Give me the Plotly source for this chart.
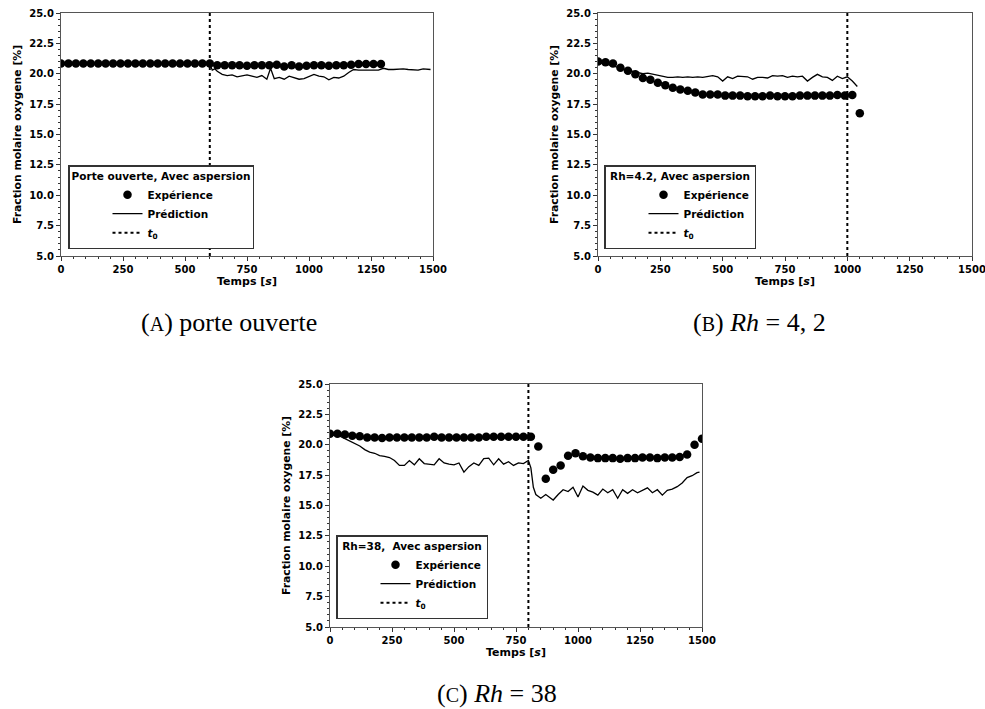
import plotly.graph_objects as go

# ---------------- Data ----------------
# Panel A: porte ouverte
a_exp_t = [0, 30, 60, 90, 120, 150, 180, 210, 240, 270, 300, 330, 360, 390, 420, 450, 480, 510, 540, 570, 600,
           630, 660, 690, 720, 750, 780, 810, 840, 870, 900, 930, 960, 990, 1020, 1050, 1080, 1110, 1140, 1170,
           1200, 1230, 1260, 1290]
a_exp_y = [20.85, 20.85, 20.85, 20.85, 20.85, 20.85, 20.85, 20.85, 20.85, 20.85, 20.85, 20.85, 20.85, 20.85,
           20.85, 20.85, 20.85, 20.85, 20.85, 20.85, 20.85,
           20.7, 20.7, 20.7, 20.7, 20.65, 20.7, 20.7, 20.7, 20.75, 20.6, 20.7, 20.6, 20.65, 20.7, 20.7, 20.65,
           20.7, 20.7, 20.75, 20.8, 20.8, 20.8, 20.8]
a_pred_t = [0, 300, 600, 610, 620, 630, 650, 670, 690, 710, 730, 750, 770, 790, 810, 830, 845, 860, 880, 900,
            920, 940, 960, 980, 1000, 1020, 1040, 1060, 1080, 1100, 1120, 1140, 1160, 1180, 1200, 1220, 1240,
            1260, 1280, 1300, 1320, 1340, 1360, 1380, 1400, 1420, 1440, 1460, 1480, 1490]
a_pred_y = [20.85, 20.85, 20.85, 20.3, 20.4, 20.2, 19.95, 19.85, 19.9, 19.75, 19.85, 19.9, 19.8, 19.7, 19.85,
            19.55, 20.45, 19.6, 19.7, 19.55, 19.8, 19.7, 19.55, 19.6, 19.8, 19.95, 19.8, 19.75, 19.5, 19.7,
            19.65, 19.8, 20.1, 20.35, 20.3, 20.3, 20.35, 20.3, 20.3, 20.45, 20.35, 20.35, 20.4, 20.4, 20.35,
            20.3, 20.3, 20.4, 20.35, 20.35]
a_t0 = 600

# Panel B: Rh = 4,2
b_exp_t = [0, 30, 60, 90, 120, 150, 180, 210, 240, 270, 300, 330, 360, 390, 420, 450, 480, 510, 540, 570, 600,
           630, 660, 690, 720, 750, 780, 810, 840, 870, 900, 930, 960, 990, 1020, 1050]
b_exp_y = [21.0, 20.95, 20.85, 20.5, 20.25, 19.95, 19.65, 19.5, 19.25, 19.05, 18.85, 18.7, 18.6, 18.45, 18.3,
           18.3, 18.3, 18.2, 18.2, 18.2, 18.15, 18.15, 18.15, 18.2, 18.15, 18.15, 18.15, 18.2, 18.2, 18.2,
           18.2, 18.2, 18.25, 18.2, 18.25, 16.75]
b_pred_t = [0, 20, 40, 60, 80, 100, 120, 140, 160, 180, 200, 220, 240, 260, 280, 300, 320, 340, 360, 380, 400,
            420, 440, 460, 480, 500, 520, 540, 560, 580, 600, 620, 640, 660, 680, 700, 720, 740, 760, 780, 800,
            820, 840, 860, 880, 900, 920, 940, 960, 980, 1000, 1020, 1040]
b_pred_y = [20.9, 20.85, 20.75, 20.65, 20.5, 20.4, 20.3, 20.2, 20.1, 20.0, 20.05, 19.95, 19.85, 19.75, 19.7,
            19.7, 19.75, 19.7, 19.75, 19.7, 19.75, 19.7, 19.8, 19.85, 19.75, 19.4, 19.75, 19.6, 19.8, 19.8,
            19.75, 19.55, 19.7, 19.7, 19.65, 19.85, 19.8, 19.85, 19.7, 19.8, 19.75, 19.8, 19.4, 19.7, 19.95,
            19.75, 19.7, 19.45, 19.8, 19.6, 19.75, 19.4, 18.95]
b_t0 = 1000

# Panel C: Rh = 38
c_exp_t = [0, 30, 60, 90, 120, 150, 180, 210, 240, 270, 300, 330, 360, 390, 420, 450, 480, 510, 540, 570, 600,
           630, 660, 690, 720, 750, 780, 810, 840, 870, 900, 930, 960, 990, 1020, 1050, 1080, 1110, 1140, 1170,
           1200, 1230, 1260, 1290, 1320, 1350, 1380, 1410, 1440, 1470, 1500]
c_exp_y = [20.9, 20.9, 20.85, 20.75, 20.7, 20.6, 20.6, 20.55, 20.6, 20.6, 20.6, 20.6, 20.6, 20.6, 20.65, 20.6,
           20.6, 20.6, 20.6, 20.6, 20.6, 20.65, 20.65, 20.65, 20.65, 20.65, 20.65, 20.65, 19.85, 17.2, 17.95,
           18.3, 19.1, 19.3, 19.05, 18.95, 18.9, 18.9, 18.9, 18.85, 18.9, 18.9, 18.95, 18.95, 18.9, 18.95, 18.95,
           19.0, 19.2, 20.0, 20.5]
c_pred_t = [0, 20, 40, 60, 80, 100, 120, 140, 160, 180, 200, 220, 240, 260, 280, 300, 320, 340, 360, 380, 400,
            420, 440, 460, 480, 500, 520, 540, 560, 580, 600, 620, 640, 660, 680, 700, 720, 740, 760, 780, 800,
            810, 820, 830, 850, 870, 890, 900, 920, 940, 960, 980, 1000, 1020, 1040, 1060, 1080, 1100, 1120,
            1140, 1160, 1180, 1200, 1220, 1240, 1260, 1280, 1300, 1320, 1340, 1360, 1380, 1400, 1420, 1440,
            1460, 1480, 1490]
c_pred_y = [20.85, 20.8, 20.7, 20.5, 20.3, 20.1, 19.9, 19.6, 19.4, 19.3, 19.1, 19.05, 18.95, 18.7, 18.3, 18.3,
            18.7, 18.35, 18.85, 18.45, 18.4, 18.35, 18.85, 18.5, 18.4, 18.35, 18.5, 17.75, 18.2, 18.5, 18.3,
            18.85, 18.9, 18.35, 18.85, 18.4, 18.6, 18.3, 18.5, 18.45, 18.7, 18.1, 16.5, 15.9, 15.6, 15.9, 15.6,
            15.45, 15.9, 16.3, 16.15, 16.5, 15.7, 16.6, 16.25, 16.1, 15.85, 16.35, 16.05, 16.3, 15.6, 16.3,
            16.0, 16.3, 16.05, 16.25, 16.45, 16.05, 16.3, 15.85, 16.25, 16.35, 16.55, 16.85, 17.3, 17.45,
            17.7, 17.75]
c_t0 = 800

legend_titles = ["Porte ouverte, Avec aspersion", "Rh=4.2, Avec aspersion", "Rh=38,\u00a0 Avec aspersion"]
captions = ["(<span style='font-size:20px'>A</span>) porte ouverte",
            "(<span style='font-size:20px'>B</span>) <i>Rh</i> = 4, 2",
            "(<span style='font-size:20px'>C</span>) <i>Rh</i> = 38"]
y_ticks = [5.0, 7.5, 10.0, 12.5, 15.0, 17.5, 20.0, 22.5, 25.0]
x_ticks = [0, 250, 500, 750, 1000, 1250, 1500]

# ---------------- Layout geometry ----------------
W, H = 985, 709
panels = [
    dict(x0=61, x1=433, y0=13, y1=256, leg=(68, 249)),
    dict(x0=598, x1=972, y0=13, y1=256, leg=(604, 249)),
    dict(x0=330, x1=702, y0=384, y1=627, leg=(336, 619)),
]
data = [
    (a_exp_t, a_exp_y, a_pred_t, a_pred_y, a_t0),
    (b_exp_t, b_exp_y, b_pred_t, b_pred_y, b_t0),
    (c_exp_t, c_exp_y, c_pred_t, c_pred_y, c_t0),
]

fig = go.Figure()
FONT = "DejaVu Sans"
layout = dict(width=W, height=H, autosize=False, margin=dict(l=0, r=0, t=0, b=0, autoexpand=False),
              paper_bgcolor="white", plot_bgcolor="white", showlegend=True,
              font=dict(family=FONT, color="black"))

for i, (p, d) in enumerate(zip(panels, data)):
    sfx = "" if i == 0 else str(i + 1)
    xa, ya = "x" + sfx, "y" + sfx
    lg = "legend" + sfx
    et, ey, pt, py, t0 = d
    fig.add_trace(go.Scatter(x=et, y=ey, mode="markers", name="<b>Expérience</b>",
                             marker=dict(color="black", size=8.5), xaxis=xa, yaxis=ya, legend=lg))
    fig.add_trace(go.Scatter(x=pt, y=py, mode="lines", name="<b>Prédiction</b>",
                             line=dict(color="black", width=1.3), xaxis=xa, yaxis=ya, legend=lg))
    fig.add_trace(go.Scatter(x=[t0, t0], y=[5, 25], mode="lines", name="<b><i>t</i><sub>0</sub></b>",
                             line=dict(color="black", width=2, dash="dot"), xaxis=xa, yaxis=ya, legend=lg))

    axis_common = dict(showline=True, linecolor="#555555", linewidth=1.2, mirror=True,
                       ticks="outside", ticklen=4, tickwidth=1, tickcolor="#333333",
                       showgrid=False, zeroline=False, automargin=False,
                       ticklabeloverflow="allow",
                       tickfont=dict(family=FONT, size=10, color="black", weight="bold"))
    layout["xaxis" + sfx] = dict(axis_common, domain=[p["x0"] / W, p["x1"] / W],
                                 anchor=ya, range=[0, 1500], tickvals=x_ticks,
                                 ticktext=[str(v) for v in x_ticks],
                                 minor=dict(dtick=50, ticks="outside", ticklen=2, tickcolor="#333333"),
                                 title=dict(text="<b>Temps [<i>s</i>]</b>", standoff=3,
                                            font=dict(family=FONT, size=11)))
    layout["yaxis" + sfx] = dict(axis_common, domain=[1 - p["y1"] / H, 1 - p["y0"] / H],
                                 anchor=xa, range=[5, 25], tickvals=y_ticks,
                                 ticktext=["%.1f" % v for v in y_ticks],
                                 minor=dict(dtick=0.5, ticks="outside", ticklen=2, tickcolor="#333333"),
                                 title=dict(text="<b>Fraction molaire oxygene [%]</b>", standoff=5,
                                            font=dict(family=FONT, size=10.8)))
    layout[lg] = dict(x=p["leg"][0] / W, y=1 - p["leg"][1] / H, xanchor="left", yanchor="bottom",
                      xref="paper", yref="paper",
                      bgcolor="white", bordercolor="#333333", borderwidth=1.5,
                      title=dict(text="<b>" + legend_titles[i] + "</b>", side="top center",
                                 font=dict(family=FONT, size=10.5)),
                      font=dict(family=FONT, size=10.5), itemwidth=30, tracegroupgap=0,
                      indentation=38)

fig.update_layout(**layout)

cap_pos = [(229, 322), (759, 322), (497, 693)]
for txt, (cx, cy) in zip(captions, cap_pos):
    fig.add_annotation(text=txt, x=cx / W, y=1 - cy / H, xref="paper", yref="paper",
                       showarrow=False, xanchor="center", yanchor="middle",
                       font=dict(family="Liberation Serif", size=26, color="black"))

fig.write_html("out.html", config={"displayModeBar": False},
               post_script="document.body.style.margin='0px';document.body.style.overflow='hidden';")
